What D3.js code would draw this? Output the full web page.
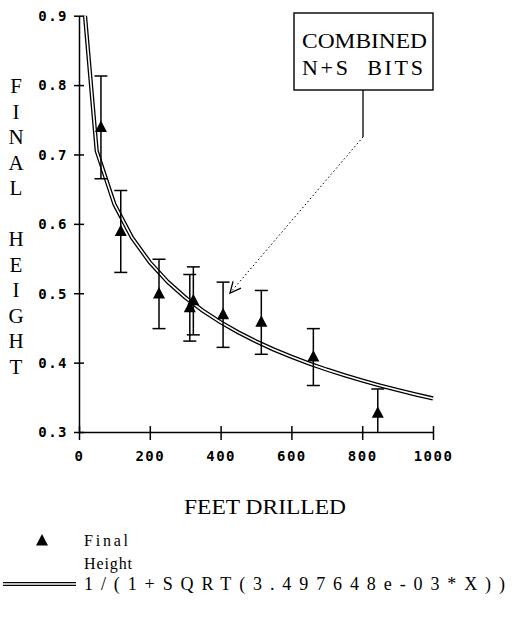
<!DOCTYPE html>
<html>
<head>
<meta charset="utf-8">
<script src="https://cdn.jsdelivr.net/npm/d3@7"></script>
<style>
  html, body { margin: 0; padding: 0; background: #fff; }
  svg { display: block; }
  .tick text { font-family: "DejaVu Sans Mono", monospace; font-weight: bold; font-size: 14px; letter-spacing: 1.5px; fill: #000; }
  .serif { font-family: "Liberation Serif", "Times New Roman", serif; fill: #000; }
</style>
</head>
<body>
<svg id="chart" width="515" height="620"></svg>
<script>
// Bit wear data: final height versus footage drilled
const feetDrilled  = [62, 118, 226, 313, 323, 407, 515, 662, 844];
const finalHeight  = [0.739, 0.589, 0.499, 0.479, 0.489, 0.469, 0.458, 0.408, 0.327];
const heightError  = [0.074, 0.059, 0.050, 0.048, 0.049, 0.047, 0.046, 0.041, 0.035];

// Fitted curve 1/(1+SQRT(k*X)), sampled every 50 ft
const fitCoef = 3.497648e-03;
const fitX = [0, 50, 100, 150, 200, 250, 300, 350, 400, 450, 500,
              550, 600, 650, 700, 750, 800, 850, 900, 950, 1000];

const xTickValues = [0, 200, 400, 600, 800, 1000];
const yTickValues = [0.3, 0.4, 0.5, 0.6, 0.7, 0.8, 0.9];
const yTitleLetters = ["F", "I", "N", "A", "L", "", "H", "E", "I", "G", "H", "T"];

const svg = d3.select("#chart");

const x = d3.scaleLinear().domain([0, 1000]).range([79, 433]);
const y = d3.scaleLinear().domain([0.3, 0.9]).range([432, 15.7]);

// Clip region = plot area
svg.append("defs").append("clipPath").attr("id", "plot")
  .append("rect")
  .attr("x", x(0)).attr("y", y(0.9))
  .attr("width", x(1000) - x(0) + 2).attr("height", y(0.3) - y(0.9));

// Axes
const yAxis = svg.append("g").attr("transform", `translate(${x(0)},0)`)
  .call(d3.axisLeft(y).tickValues(yTickValues).tickFormat(d3.format(".1f")).tickSizeOuter(0).tickSizeInner(5).tickPadding(6));
yAxis.selectAll(".tick line").attr("x1", -5).attr("x2", 5);

const xAxis = svg.append("g").attr("transform", `translate(0,${y(0.3)})`)
  .call(d3.axisBottom(x).tickValues(xTickValues).tickFormat(d3.format("d")).tickSizeOuter(0).tickSizeInner(8).tickPadding(11));
xAxis.selectAll(".tick line").attr("y1", -6).attr("y2", 8);

svg.selectAll(".domain, .tick line").attr("stroke", "#000").attr("stroke-width", 1.5);
yAxis.selectAll(".tick text").attr("dy", "0.35em");

// Fitted curve drawn as a double line
const fitPts = fitX.map(v => [v, 1 / (1 + Math.sqrt(fitCoef * v))]);
const line = d3.line().x(d => x(d[0])).y(d => y(d[1]));
const curve = svg.append("g").attr("clip-path", "url(#plot)");
curve.append("path").attr("d", line(fitPts)).attr("fill", "none")
  .attr("stroke", "#000").attr("stroke-width", 4.2).attr("stroke-linejoin", "round");
curve.append("path").attr("d", line(fitPts)).attr("fill", "none")
  .attr("stroke", "#fff").attr("stroke-width", 1.6).attr("stroke-linejoin", "round");

// Error bars and triangles
const pts = feetDrilled.map((f, i) => ({ f, h: finalHeight[i], e: heightError[i] }));
const bars = svg.append("g").attr("clip-path", "url(#plot)")
  .attr("stroke", "#000").attr("stroke-width", 1.5);
bars.selectAll("line.v").data(pts).join("line").attr("class", "v")
  .attr("x1", d => x(d.f)).attr("x2", d => x(d.f))
  .attr("y1", d => y(d.h + d.e)).attr("y2", d => y(d.h - d.e));
bars.selectAll("line.t").data(pts).join("line").attr("class", "t")
  .attr("x1", d => x(d.f) - 6.5).attr("x2", d => x(d.f) + 6.5)
  .attr("y1", d => y(d.h + d.e)).attr("y2", d => y(d.h + d.e));
bars.selectAll("line.b").data(pts).join("line").attr("class", "b")
  .attr("x1", d => x(d.f) - 6.5).attr("x2", d => x(d.f) + 6.5)
  .attr("y1", d => y(d.h - d.e)).attr("y2", d => y(d.h - d.e));

const tri = "M0,-7L6,4.5L-6,4.5Z";
svg.append("g").selectAll("path").data(pts).join("path")
  .attr("d", tri).attr("fill", "#000")
  .attr("transform", d => `translate(${x(d.f)},${y(d.h)})`);

// Y title, one letter per row
svg.append("g").selectAll("text").data(yTitleLetters).join("text")
  .attr("class", "serif").attr("font-size", 21)
  .attr("text-anchor", "middle")
  .attr("x", 16).attr("y", (d, i) => 93 + i * 25.5)
  .text(d => d);

// X title
svg.append("text").attr("class", "serif").attr("font-size", 20)
  .attr("x", 184).attr("y", 514)
  .attr("textLength", 162).attr("lengthAdjust", "spacingAndGlyphs")
  .text("FEET DRILLED");

// Callout box
const box = svg.append("g");
box.append("rect").attr("x", 294).attr("y", 13).attr("width", 139).attr("height", 77)
  .attr("fill", "#fff").attr("stroke", "#000").attr("stroke-width", 1.4);
box.append("text").attr("class", "serif").attr("font-size", 22)
  .attr("x", 302).attr("y", 48).attr("textLength", 125).attr("lengthAdjust", "spacingAndGlyphs")
  .text("COMBINED");
box.append("text").attr("class", "serif").attr("font-size", 22)
  .attr("x", 302).attr("y", 75).attr("textLength", 121).attr("lengthAdjust", "spacing")
  .attr("xml:space", "preserve").style("white-space", "pre")
  .text("N+S  BITS");

// Leader: solid drop then dotted pointer with an open arrowhead
const tip = [230, 293], knee = [363, 137];
box.append("line").attr("x1", 363).attr("y1", 90).attr("x2", knee[0]).attr("y2", knee[1])
  .attr("stroke", "#000").attr("stroke-width", 1.3);
box.append("line").attr("x1", knee[0]).attr("y1", knee[1]).attr("x2", tip[0]).attr("y2", tip[1])
  .attr("stroke", "#000").attr("stroke-width", 1).attr("stroke-dasharray", "1.5,2.5");
const ang = Math.atan2(knee[1] - tip[1], knee[0] - tip[0]);
const barb = 12, spread = 0.45;
box.append("path")
  .attr("d", `M${tip[0] + barb * Math.cos(ang - spread)},${tip[1] + barb * Math.sin(ang - spread)}` +
             `L${tip[0]},${tip[1]}` +
             `L${tip[0] + barb * Math.cos(ang + spread)},${tip[1] + barb * Math.sin(ang + spread)}`)
  .attr("fill", "none").attr("stroke", "#000").attr("stroke-width", 1.3);

// Legend
const legend = svg.append("g");
legend.append("path").attr("d", tri).attr("fill", "#000")
  .attr("transform", "translate(42,541)");
legend.append("text").attr("class", "serif").attr("font-size", 16)
  .attr("x", 84).attr("y", 546).attr("textLength", 44).attr("lengthAdjust", "spacing")
  .text("Final");
legend.append("text").attr("class", "serif").attr("font-size", 16)
  .attr("x", 84).attr("y", 569).attr("textLength", 48).attr("lengthAdjust", "spacing")
  .text("Height");
legend.append("line").attr("x1", 3).attr("x2", 76).attr("y1", 584).attr("y2", 584)
  .attr("stroke", "#000").attr("stroke-width", 4.2);
legend.append("line").attr("x1", 3).attr("x2", 76).attr("y1", 584).attr("y2", 584)
  .attr("stroke", "#fff").attr("stroke-width", 1.6);
legend.append("text").attr("class", "serif").attr("font-size", 18)
  .attr("x", 84).attr("y", 590).attr("textLength", 421).attr("lengthAdjust", "spacing")
  .text(`1/(1+SQRT(${fitCoef.toExponential(6).replace("e-3", "e-03")}*X))`);
</script>
</body>
</html>
